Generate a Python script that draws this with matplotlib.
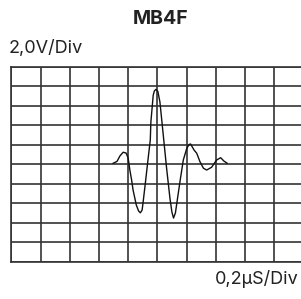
import matplotlib
matplotlib.use("Agg")
import matplotlib.pyplot as plt

# waveform (x and y in divisions, 0..10)
wave_x = [3.48, 3.62, 3.72, 3.83, 3.93, 4.00, 4.06, 4.12, 4.17, 4.28, 4.36, 4.42,
          4.48, 4.51, 4.59, 4.68, 4.76, 4.78, 4.86, 4.90, 4.955, 5.02, 5.09, 5.205,
          5.32, 5.435, 5.50, 5.555, 5.62, 5.69, 5.78, 5.89, 6.01, 6.09, 6.14, 6.26,
          6.35, 6.46, 6.58, 6.69, 6.86, 7.03, 7.17, 7.28, 7.40]
wave_y = [5.05, 5.15, 5.43, 5.62, 5.58, 5.33, 4.71, 4.20, 3.69, 2.92, 2.61, 2.52,
          2.66, 3.01, 4.03, 5.22, 6.25, 7.17, 8.54, 8.76, 8.84, 8.73, 8.19, 6.49,
          4.78, 3.24, 2.56, 2.25, 2.51, 3.23, 4.15, 5.22, 5.82, 6.02, 6.04, 5.73,
          5.57, 5.14, 4.80, 4.71, 4.85, 5.22, 5.34, 5.17, 5.05]

title = "MB4F"
y_label = "2,0V/Div"
x_label = "0,2µS/Div"
n_div = 10

fig = plt.figure(figsize=(3.01, 2.99), dpi=100)
W, H = 301, 299
left_px, top_px, bottom_px = 11.3, 66.7, 262.0
cell_w = 29.2
ax = fig.add_axes([left_px / W, (H - bottom_px) / H,
                   n_div * cell_w / W, (bottom_px - top_px) / H])
ax.set_xlim(0, n_div)
ax.set_ylim(0, n_div)
ax.set_xticks(range(n_div + 1))
ax.set_yticks(range(n_div + 1))
ax.tick_params(length=0, labelbottom=False, labelleft=False)
ax.grid(True, color="#333333", linewidth=1.2)
for s in ax.spines.values():
    s.set_color("#333333")
    s.set_linewidth(1.2)
ax.set_axisbelow(True)

ax.plot(wave_x, wave_y, color="#111111", linewidth=1.0,
        solid_joinstyle="round", solid_capstyle="round")

font = "Inter"
fig.text(160.5 / W, 1 - 18.5 / H, title, ha="center", va="center",
         fontsize=14, fontweight="bold", family=font, color="#222222")
fig.text(9 / W, 1 - 48 / H, y_label, ha="left", va="center",
         fontsize=13, family=font, color="#222222")
fig.text(299 / W, 1 - 279 / H, x_label, ha="right", va="center",
         fontsize=13, family=font, color="#222222")

fig.savefig("out.png", dpi=100)
